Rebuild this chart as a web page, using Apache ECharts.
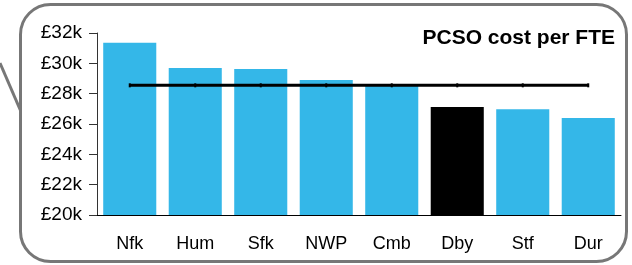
<!DOCTYPE html>
<html>
<head>
<meta charset="utf-8">
<script src="https://cdn.jsdelivr.net/npm/echarts@6/dist/echarts.min.js"></script>
<style>
  html, body { margin: 0; padding: 0; background: #fff; }
  #chart { width: 632px; height: 265px; }
</style>
</head>
<body>
<div id="chart"></div>
<script>
// forces (short names)
var forces = ['Nfk', 'Hum', 'Sfk', 'NWP', 'Cmb', 'Dby', 'Stf', 'Dur']
// cost per FTE, in £k
var costs = [31.35, 29.7, 29.63, 28.9, 28.5, 27.12, 26.98, 26.4]
// group average, £k
var average = [28.55, 28.55, 28.55, 28.55, 28.55, 28.55, 28.55, 28.55]
var highlight = 'Dby'

var blue = '#34b7e8'
var font = 'Liberation Sans, Arial, sans-serif'

var chart = echarts.init(document.getElementById('chart'))

chart.setOption({
  animation: false,
  graphic: [
    {
      type: 'line',
      z: -10,
      shape: { x1: 0, y1: 63, x2: 22, y2: 114 },
      style: { stroke: '#777', lineWidth: 3 }
    },
    {
      type: 'rect',
      z: -5,
      shape: { x: 20.5, y: 4.5, width: 606, height: 257, r: 30 },
      style: { fill: '#fff', stroke: '#777', lineWidth: 3 }
    },
    {
      type: 'text',
      right: 17,
      top: 28,
      style: {
        text: 'PCSO cost per FTE',
        font: 'bold 21px ' + font,
        fill: '#000'
      }
    }
  ],
  grid: { left: 97, right: 11, top: 33, bottom: 50 },
  xAxis: {
    type: 'category',
    data: forces,
    axisLine: { lineStyle: { color: '#000', width: 1 } },
    axisTick: { show: false },
    axisLabel: { color: '#000', fontSize: 18, fontFamily: font, margin: 20 }
  },
  yAxis: {
    type: 'value',
    min: 20,
    max: 32,
    interval: 2,
    axisLine: { show: true, lineStyle: { color: '#333', width: 1 } },
    axisTick: { show: true, length: 8, lineStyle: { color: '#333' } },
    splitLine: { show: false },
    axisLabel: {
      color: '#000', fontSize: 19, fontFamily: font, margin: 15,
      formatter: function (v) { return '£' + v + 'k' }
    }
  },
  series: [
    {
      type: 'bar',
      barCategoryGap: '19%',
      data: costs.map(function (v, i) {
        return {
          value: v,
          itemStyle: { color: forces[i] === highlight ? '#000' : blue }
        }
      })
    },
    {
      type: 'line',
      data: average,
      symbol: 'rect',
      symbolSize: [2, 4],
      itemStyle: { color: '#000' },
      lineStyle: { color: '#000', width: 3 }
    }
  ]
})
</script>
</body>
</html>
